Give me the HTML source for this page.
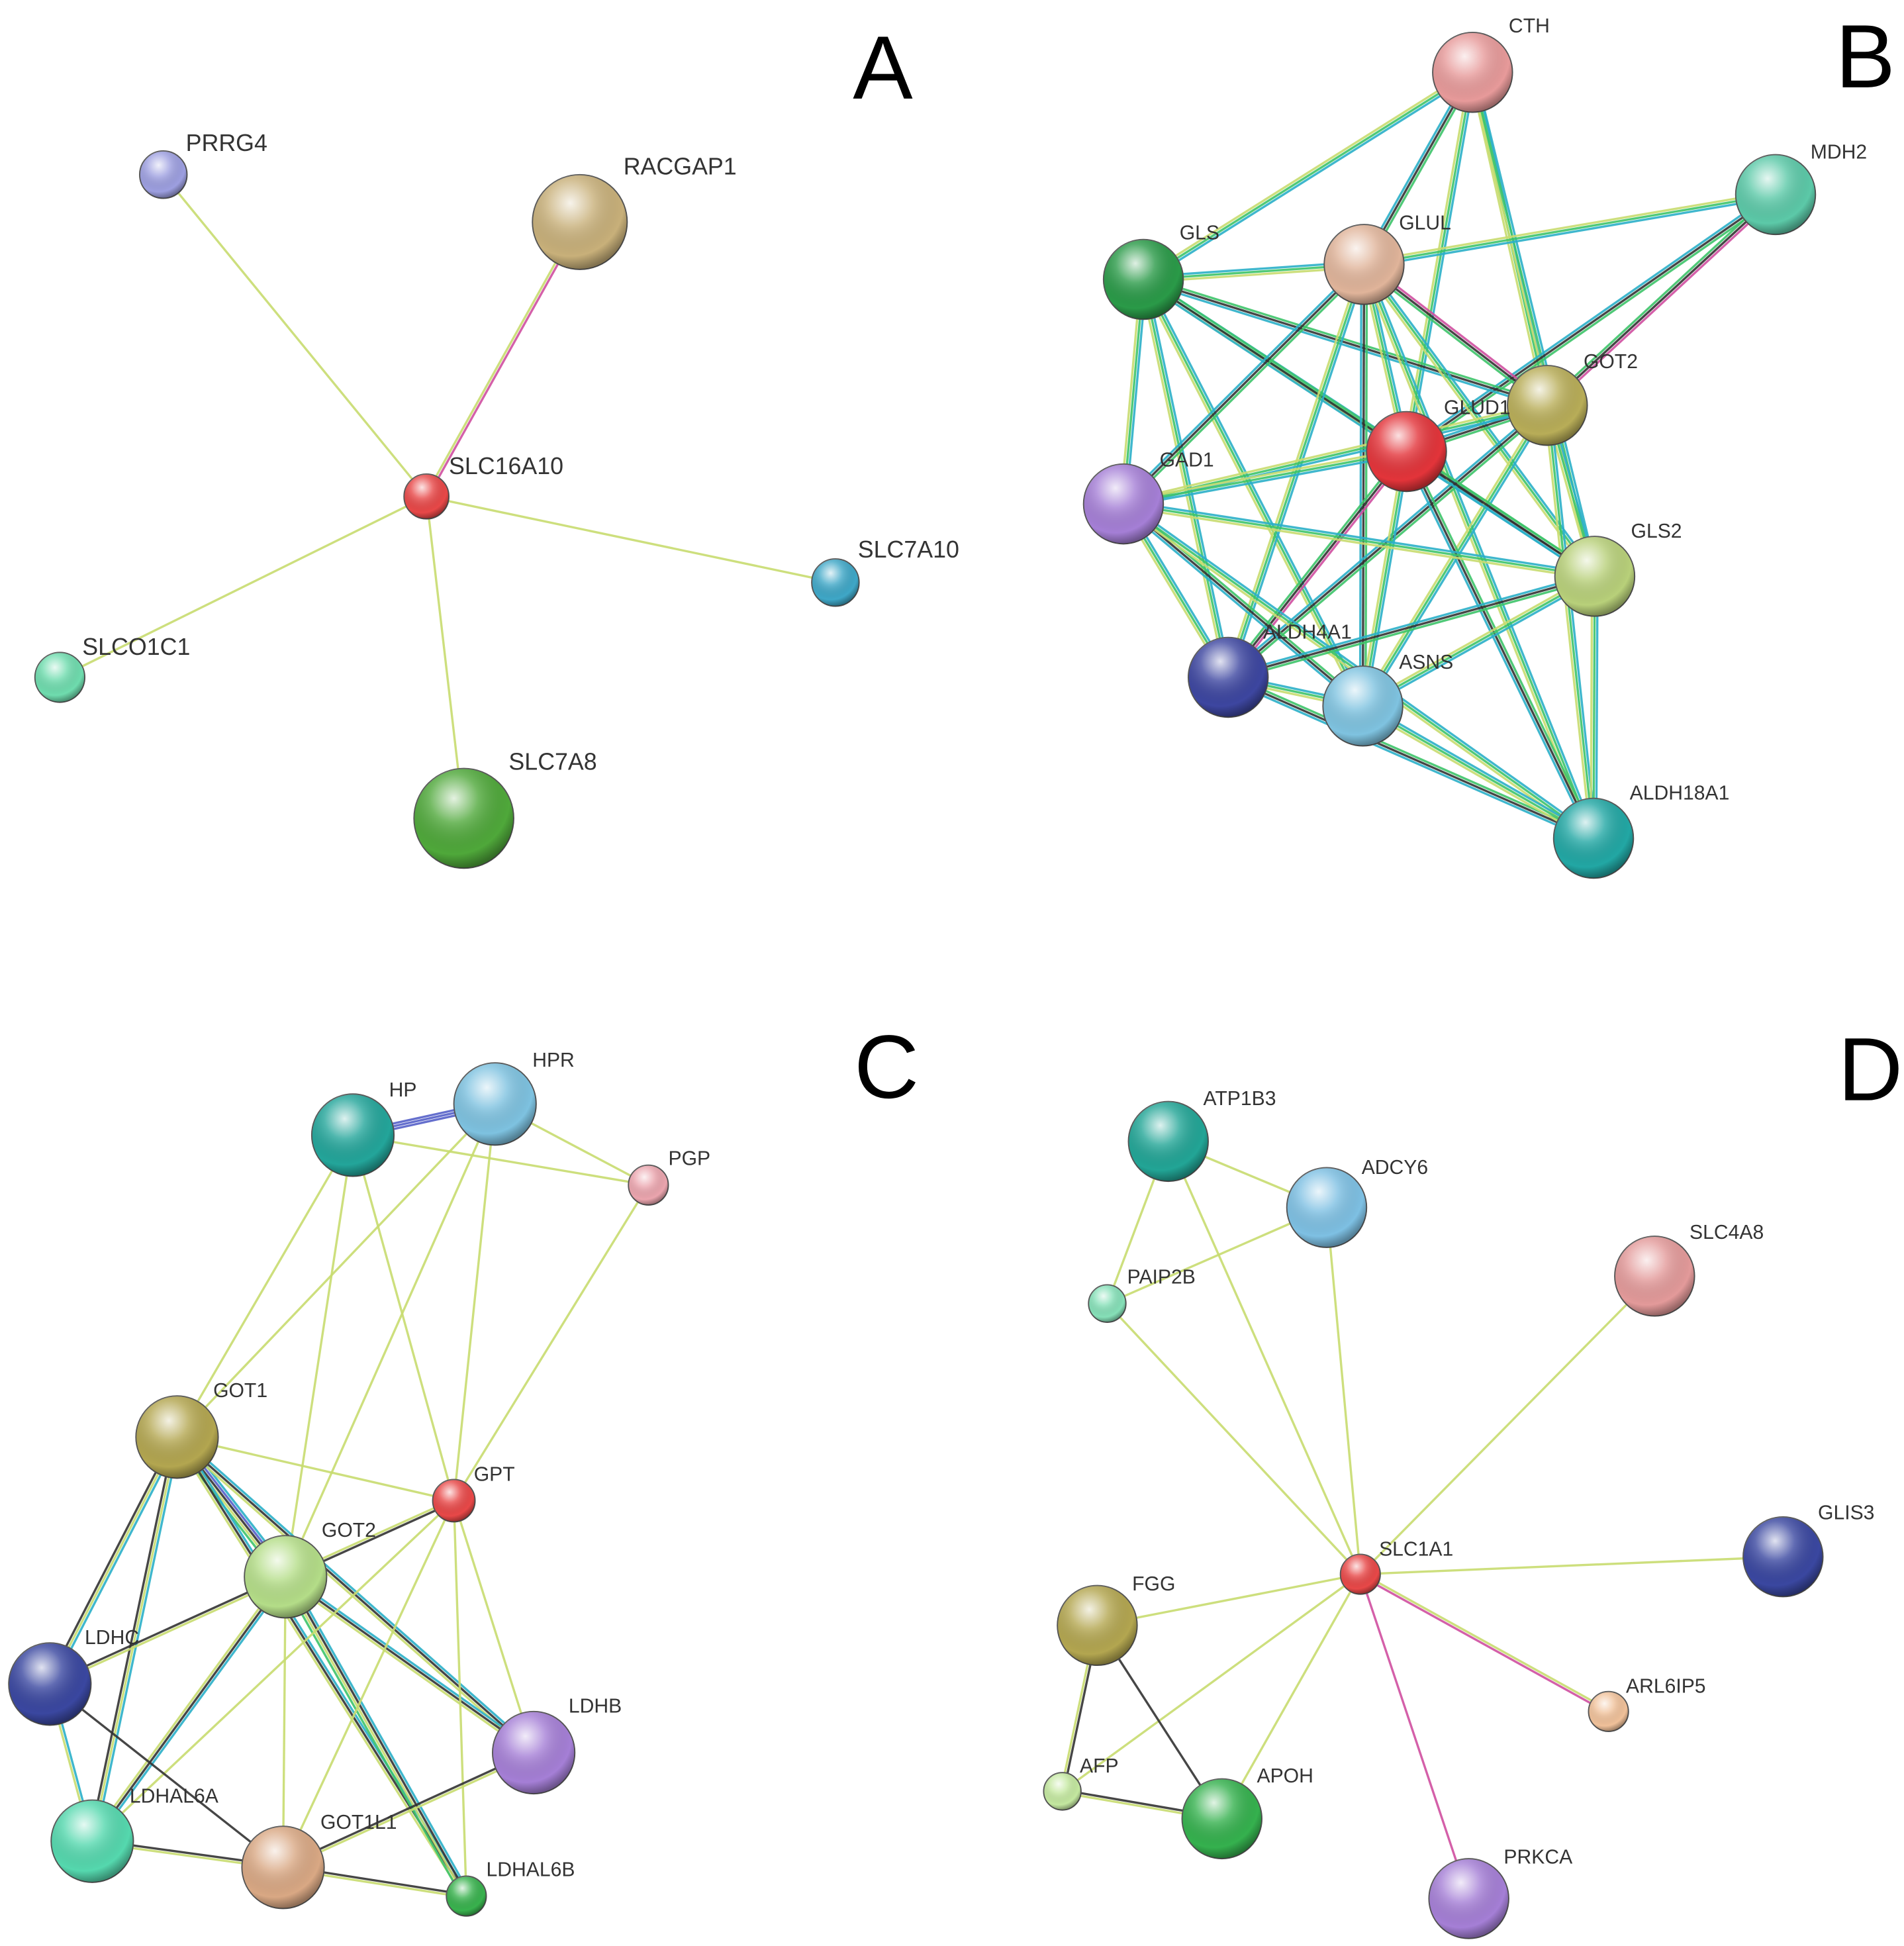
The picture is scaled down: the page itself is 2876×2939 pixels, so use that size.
<!DOCTYPE html>
<html><head><meta charset="utf-8"><style>
html,body{margin:0;padding:0;background:#fff}
svg{display:block}
text{font-family:"Liberation Sans",sans-serif;fill:#333}
.big{font-size:72px;fill:#000}
.lb{font-size:16px}
.la{font-size:19px}
</style></head><body>
<svg id="s" width="2876" height="2939" viewBox="0 0 1527 1560" preserveAspectRatio="none" xmlns="http://www.w3.org/2000/svg">
<defs>
<radialGradient id="hl" cx="0.4" cy="0.3" r="0.7">
<stop offset="0" stop-color="#fff" stop-opacity="0.85"/>
<stop offset="0.35" stop-color="#fff" stop-opacity="0.2"/>
<stop offset="0.8" stop-color="#000" stop-opacity="0"/>
<stop offset="1" stop-color="#000" stop-opacity="0.35"/>
</radialGradient>
</defs>
<g id="edges"></g>
<g id="nodes"></g>
<text class="big" x="684" y="79">A</text>
<text class="big" x="1472" y="70">B</text>
<text class="big" x="685" y="880">C</text>
<text class="big" x="1474" y="882">D</text>
<g class="la">
<text x="149" y="121">PRRG4</text><text x="500" y="140">RACGAP1</text><text x="360" y="380">SLC16A10</text>
<text x="688" y="447">SLC7A10</text><text x="66" y="525">SLCO1C1</text><text x="408" y="617">SLC7A8</text>
</g>
<g class="lb">
<text x="1210" y="26">CTH</text><text x="1452" y="127">MDH2</text><text x="946" y="192">GLS</text>
<text x="1122" y="184">GLUL</text><text x="1270" y="295">GOT2</text><text x="1158" y="332">GLUD1</text>
<text x="930" y="374">GAD1</text><text x="1308" y="431">GLS2</text><text x="1013" y="512">ALDH4A1</text>
<text x="1122" y="536">ASNS</text><text x="1307" y="641">ALDH18A1</text>
<text x="312" y="879">HP</text><text x="427" y="855">HPR</text><text x="536" y="934">PGP</text>
<text x="171" y="1120">GOT1</text><text x="380" y="1187">GPT</text><text x="258" y="1232">GOT2</text>
<text x="68" y="1318">LDHC</text><text x="456" y="1373">LDHB</text><text x="104" y="1445">LDHAL6A</text>
<text x="257" y="1466">GOT1L1</text><text x="390" y="1504">LDHAL6B</text>
<text x="965" y="886">ATP1B3</text><text x="1092" y="941">ADCY6</text><text x="904" y="1029">PAIP2B</text>
<text x="1355" y="993">SLC4A8</text><text x="1106" y="1247">SLC1A1</text><text x="1458" y="1218">GLIS3</text>
<text x="908" y="1275">FGG</text><text x="1304" y="1357">ARL6IP5</text><text x="866" y="1421">AFP</text>
<text x="1008" y="1429">APOH</text><text x="1206" y="1494">PRKCA</text>
</g>
</svg>
<script>
var N={
PRRG4:[131,140,19,'#9d9fe0'],RACGAP1:[465,178,38,'#c8b07a'],SLC16A10:[342,398,18,'#e84848'],SLC7A10:[670,467,19,'#3fa7c7'],SLCO1C1:[48,543,20,'#6fdcae'],SLC7A8:[372,656,40,'#4fa83a'],
CTH:[1181,58,32,'#e79a9a'],MDH2:[1424,156,32,'#5cc9a8'],GLS:[917,224,32,'#2a9a48'],GLUL:[1094,212,32,'#e0b49a'],bGOT2:[1241,325,32,'#b8ad58'],GLUD1:[1128,362,32,'#e3343a'],GAD1:[901,404,32,'#a57fd6'],GLS2:[1279,462,32,'#b8d07a'],ALDH4A1:[985,543,32,'#3d46a0'],ASNS:[1093,566,32,'#7fc3e0'],ALDH18A1:[1278,672,32,'#22a7a4'],
HP:[283,910,33,'#23a59a'],HPR:[397,885,33,'#7ec2e0'],PGP:[520,950,16,'#eba5ae'],GOT1:[142,1152,33,'#b3a650'],GPT:[364,1203,17,'#e84848'],cGOT2:[229,1264,33,'#b4dd88'],LDHC:[40,1350,33,'#3a47a0'],LDHB:[428,1405,33,'#a57fd6'],LDHAL6A:[74,1476,33,'#55d8ae'],GOT1L1:[227,1497,33,'#d9a884'],LDHAL6B:[374,1520,16,'#39b24e'],
ATP1B3:[937,915,32,'#22a596'],ADCY6:[1064,968,32,'#7ec0e3'],PAIP2B:[888,1045,15,'#86e0b8'],SLC4A8:[1327,1023,32,'#e39a9a'],SLC1A1:[1091,1262,16,'#e84848'],GLIS3:[1430,1248,32,'#3a47a0'],FGG:[880,1303,32,'#b3a650'],ARL6IP5:[1290,1372,16,'#f0c19a'],AFP:[852,1436,15,'#c4e8a0'],APOH:[980,1458,32,'#35b14e'],PRKCA:[1178,1522,32,'#a57fd6']};
var Y='#c8dc70',G='#3ec46a',T='#2bb0c8',K='#333',P='#d04fa0',B='#5560c8';
var E=[
['PRRG4','SLC16A10',[Y]],['RACGAP1','SLC16A10',[P,Y]],['SLC7A10','SLC16A10',[Y]],['SLCO1C1','SLC16A10',[Y]],['SLC7A8','SLC16A10',[Y]],
['ATP1B3','ADCY6',[Y]],['ATP1B3','PAIP2B',[Y]],['PAIP2B','ADCY6',[Y]],['PAIP2B','SLC1A1',[Y]],['ATP1B3','SLC1A1',[Y]],['ADCY6','SLC1A1',[Y]],['SLC4A8','SLC1A1',[Y]],['GLIS3','SLC1A1',[Y]],['FGG','SLC1A1',[Y]],['ARL6IP5','SLC1A1',[P,Y]],['AFP','SLC1A1',[Y]],['APOH','SLC1A1',[Y]],['PRKCA','SLC1A1',[P]],['FGG','AFP',[K,Y]],['FGG','APOH',[K]],['AFP','APOH',[K,Y]],
['HP','HPR',[B,B,B]],['HP','PGP',[Y]],['HPR','PGP',[Y]],['HP','GOT1',[Y]],['HP','cGOT2',[Y]],['HP','GPT',[Y]],['HPR','cGOT2',[Y]],['HPR','GPT',[Y]],['HPR','GOT1',[Y]],['PGP','GPT',[Y]],
['GOT1','GPT',[Y]],['GOT1','cGOT2',[T,B,K,Y,G]],['GOT1','LDHC',[T,Y,K]],['GOT1','LDHAL6A',[T,Y,K]],['GOT1','LDHB',[T,K,Y]],['GOT1','LDHAL6B',[T,K,Y]],['cGOT2','GPT',[Y,K]],['cGOT2','LDHC',[Y,K]],['cGOT2','LDHAL6A',[T,K,Y]],['cGOT2','LDHB',[T,K,Y]],['cGOT2','LDHAL6B',[T,K,Y,G]],['cGOT2','GOT1L1',[Y]],['GPT','LDHB',[Y]],['GPT','LDHAL6B',[Y]],['GPT','GOT1L1',[Y]],['GPT','LDHAL6A',[Y]],['LDHC','GOT1L1',[K]],['LDHAL6A','GOT1L1',[K,Y]],['GOT1L1','LDHB',[K,Y]],['GOT1L1','LDHAL6B',[K,Y]],['LDHC','LDHAL6A',[T,Y]]
];
var bn=['CTH','MDH2','GLS','GLUL','bGOT2','GLUD1','GAD1','GLS2','ALDH4A1','ASNS','ALDH18A1'];
var skip={'CTH-MDH2':1,'CTH-GAD1':1,'CTH-ALDH4A1':1,'CTH-ASNS':1,'CTH-ALDH18A1':1,'MDH2-GLS':1,'MDH2-GAD1':1,'MDH2-ALDH4A1':1,'MDH2-ASNS':1,'MDH2-ALDH18A1':1,'MDH2-GLS2':1,'GLS-ALDH18A1':1};
for(var i=0;i<bn.length;i++)for(var j=i+1;j<bn.length;j++){var k=bn[i]+'-'+bn[j];if(skip[k])continue;
var c=[T,G,Y];if((i+j)%3==0)c=[G,K,T];if(k=='GLUL-bGOT2'||k=='GLUD1-ALDH4A1'||k=='MDH2-bGOT2')c=[P,K,G];E.push([bn[i],bn[j],c]);}
var ns='http://www.w3.org/2000/svg',eg=document.getElementById('edges'),ng=document.getElementById('nodes');
E.forEach(function(e){var a=N[e[0]],b=N[e[1]];var dx=b[0]-a[0],dy=b[1]-a[1],L=Math.hypot(dx,dy),px=-dy/L,py=dx/L,n=e[2].length;
e[2].forEach(function(col,t){var o=(t-(n-1)/2)*2.2;var l=document.createElementNS(ns,'line');
l.setAttribute('x1',a[0]+px*o);l.setAttribute('y1',a[1]+py*o);l.setAttribute('x2',b[0]+px*o);l.setAttribute('y2',b[1]+py*o);
l.setAttribute('stroke',col);l.setAttribute('stroke-width',1.8);l.setAttribute('opacity',0.9);eg.appendChild(l);});});
for(var k in N){var v=N[k];var c=document.createElementNS(ns,'circle');c.setAttribute('cx',v[0]);c.setAttribute('cy',v[1]);c.setAttribute('r',v[2]);c.setAttribute('fill',v[3]);c.setAttribute('stroke','#555');c.setAttribute('stroke-width',1);ng.appendChild(c);
var h=document.createElementNS(ns,'circle');h.setAttribute('cx',v[0]);h.setAttribute('cy',v[1]);h.setAttribute('r',v[2]);h.setAttribute('fill','url(#hl)');ng.appendChild(h);}
</script>
</body></html>
